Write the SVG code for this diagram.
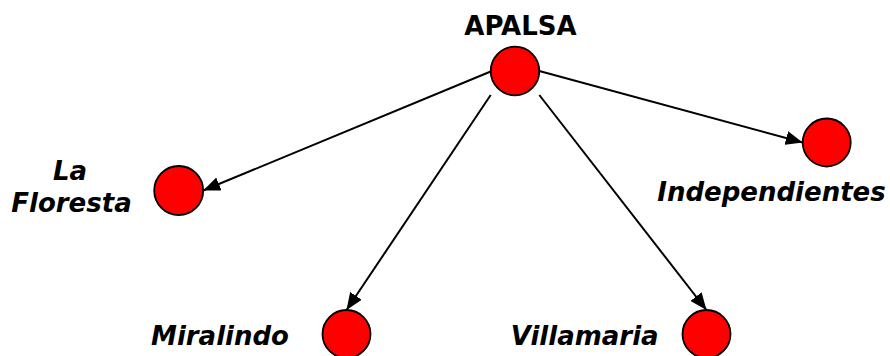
<svg xmlns="http://www.w3.org/2000/svg" width="890" height="356" viewBox="0 0 890 356">
<style>
.node{fill:#ff0000;stroke:#000;stroke-width:1.8}
.lbl{font-family:"DejaVu Sans",Verdana,sans-serif;font-weight:bold;font-size:26px;fill:#000;text-anchor:middle}
.it{font-style:italic}
.edge{stroke:#000;stroke-width:2;fill:none;marker-end:url(#arr)}
</style>
<defs>
<marker id="arr" markerUnits="userSpaceOnUse" markerWidth="18" markerHeight="14" refX="17" refY="7" orient="auto">
<path d="M0,0 L17,7 L0,14 z" fill="#000"/>
</marker>
</defs>
<rect width="890" height="356" fill="#fff"/>
<g id="edges">
<line class="edge" x1="490.7" y1="71.5" x2="203.2" y2="190.5"/>
<line class="edge" x1="539.3" y1="71" x2="802.7" y2="142.5"/>
<line class="edge" x1="490.7" y1="95" x2="346.5" y2="310"/>
<line class="edge" x1="539.3" y1="95" x2="706.5" y2="310"/>
</g>
<g id="apalsa">
<circle class="node" cx="515" cy="71" r="24.3"/>
<text class="lbl" x="520.5" y="35">APALSA</text>
</g>
<g id="la-floresta">
<circle class="node" cx="178.7" cy="190.5" r="24.5"/>
<text class="lbl it" x="70" y="180">La</text>
<text class="lbl it" x="71.5" y="211.5">Floresta</text>
</g>
<g id="independientes">
<circle class="node" cx="826.7" cy="142.5" r="24"/>
<text class="lbl it" x="771.5" y="200.5">Independientes</text>
</g>
<g id="miralindo">
<circle class="node" cx="346.5" cy="334" r="24"/>
<text class="lbl it" x="220" y="345">Miralindo</text>
</g>
<g id="villamaria">
<circle class="node" cx="706.5" cy="334" r="24"/>
<text class="lbl it" x="584.7" y="345">Villamaria</text>
</g>
</svg>
